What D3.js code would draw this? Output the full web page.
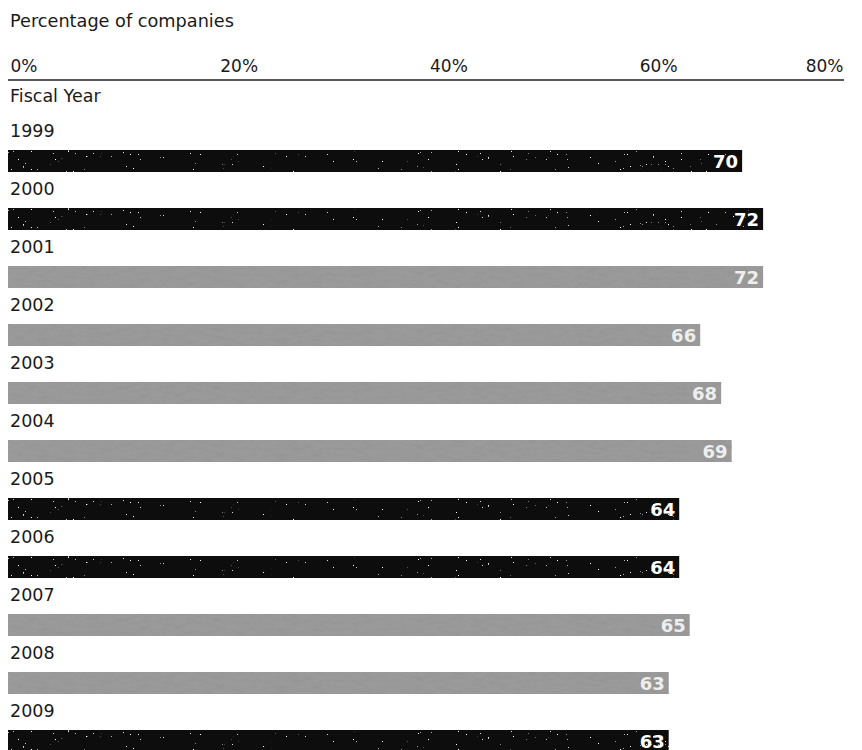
<!DOCTYPE html>
<html>
<head>
<meta charset="utf-8">
<script src="https://cdn.jsdelivr.net/npm/d3@7"></script>
<style>
  html, body { margin: 0; padding: 0; background: #fff; }
  svg { display: block; }
</style>
</head>
<body>
<svg id="chart" width="862" height="750"></svg>
<script>
// ---- data ----
const years = ["1999","2000","2001","2002","2003","2004","2005","2006","2007","2008","2009"];
const values = [70, 72, 72, 66, 68, 69, 64, 64, 65, 63, 63];
const shades = ["dark","dark","light","light","light","light","dark","dark","light","light","dark"];
const tickValues = [0, 20, 40, 60, 80];
const tickLabels = ["0%", "20%", "40%", "60%", "80%"];
const title = "Percentage of companies";
const yTitle = "Fiscal Year";

const data = years.map((y, i) => ({ year: y, value: values[i], shade: shades[i] }));

const svg = d3.select("#chart");
const labelFont = "'DejaVu Sans', sans-serif";

// texture filters
const defs = svg.append("defs");
const fd = defs.append("filter").attr("id", "speck").attr("x", 0).attr("y", 0).attr("width", 1).attr("height", 1);
fd.append("feTurbulence").attr("type", "fractalNoise").attr("baseFrequency", 0.6).attr("numOctaves", 2).attr("seed", 4).attr("result", "n");
fd.append("feColorMatrix").attr("in", "n").attr("type", "matrix")
  .attr("values", "0 0 0 0 1  0 0 0 0 1  0 0 0 0 1  22 0 0 0 -16.8").attr("result", "dots");
fd.append("feComposite").attr("in", "dots").attr("in2", "SourceGraphic").attr("operator", "in").attr("result", "d2");
const fm = fd.append("feMerge");
fm.append("feMergeNode").attr("in", "SourceGraphic");
fm.append("feMergeNode").attr("in", "d2");

const fl = defs.append("filter").attr("id", "mottle").attr("x", 0).attr("y", 0).attr("width", 1).attr("height", 1);
fl.append("feTurbulence").attr("type", "fractalNoise").attr("baseFrequency", "0.08 0.3").attr("numOctaves", 3).attr("seed", 7).attr("result", "n");
fl.append("feColorMatrix").attr("in", "n").attr("type", "matrix")
  .attr("values", "0 0 0 0 0.3  0 0 0 0 0.3  0 0 0 0 0.3  2.2 0 0 0 -1.0").attr("result", "m");
fl.append("feComposite").attr("in", "m").attr("in2", "SourceGraphic").attr("operator", "in").attr("result", "m2");
const fm2 = fl.append("feMerge");
fm2.append("feMergeNode").attr("in", "SourceGraphic");
fm2.append("feMergeNode").attr("in", "m2");

// ---- scales ----
const x = d3.scaleLinear().domain([0, 80]).range([8, 847]);
const y = d3.scaleBand().domain(years).range([121, 121 + 58 * years.length]).paddingInner(0).paddingOuter(0);

// title
svg.append("text").attr("x", 10).attr("y", 27).style("font-family", labelFont).style("font-size", "17.7px").style("fill", "#1a1a1a").text(title);

// top axis
const axis = d3.axisTop(x).tickValues(tickValues).tickSize(0).tickPadding(0)
  .tickFormat((d, i) => tickLabels[i]);
const ag = svg.append("g").attr("transform", "translate(0,80)").call(axis);
ag.select(".domain").attr("d", `M${x(0)},0H${x(80) - 3}`).attr("stroke", "#222").attr("stroke-width", 1.6);
ag.selectAll(".tick text")
  .style("font-family", labelFont)
  .style("font-size", "17px")
  .style("fill", "#1a1a1a")
  .attr("dy", -8)
  .attr("dx", 2)
  .attr("text-anchor", (d, i) => i === tickValues.length - 1 ? "end" : "start")
  .attr("transform", (d, i) => i === tickValues.length - 1 ? "translate(-6,0)" : null);

// y title
svg.append("text").attr("x", 10).attr("y", 102).style("font-family", labelFont).style("font-size", "17.5px").style("fill", "#1a1a1a").text(yTitle);

// rows
const rows = svg.append("g").selectAll("g").data(data).join("g")
  .attr("transform", d => `translate(0,${y(d.year)})`);

rows.append("text").attr("x", 10).attr("y", 16)
  .style("font-family", labelFont).style("font-size", "17.5px").style("fill", "#1a1a1a")
  .text(d => d.year);

rows.append("rect")
  .attr("x", x(0))
  .attr("y", 29)
  .attr("height", 22)
  .attr("width", d => x(d.value) - x(0))
  .attr("fill", d => d.shade === "dark" ? "#0b0b0b" : "#9a9a9a")
  .attr("filter", d => d.shade === "dark" ? "url(#speck)" : "url(#mottle)");

rows.append("text")
  .attr("x", d => x(d.value) - 4)
  .attr("y", 46.5)
  .attr("text-anchor", "end")
  .style("font-family", "'DejaVu Sans', sans-serif")
  .style("font-weight", "bold")
  .style("font-size", "18px")
  .style("fill", d => d.shade === "dark" ? "#ffffff" : "#eeeeee")
  .text(d => d.value);
</script>
</body>
</html>
